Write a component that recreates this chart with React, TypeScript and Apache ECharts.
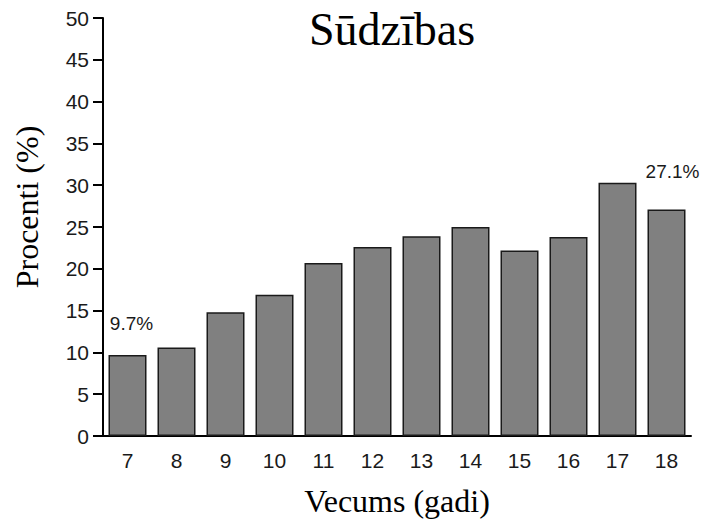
import React, { useEffect, useRef } from "react";
import * as echarts from "echarts";

const categories = ["7", "8", "9", "10", "11", "12", "13", "14", "15", "16", "17", "18"];
const values = [9.7, 10.6, 14.8, 16.9, 20.7, 22.6, 23.9, 25.0, 22.2, 23.8, 30.3, 27.1];
const labeledIndices = [0, 11];

export default function App() {
  const ref = useRef<HTMLDivElement>(null);
  useEffect(() => {
    const chart = echarts.init(ref.current!, null, { renderer: "svg" });
    const data = values.map((v, i) =>
      labeledIndices.includes(i)
        ? {
            value: v,
            label: {
              show: true,
              position: "top",
              distance: i === 0 ? 22 : 28,
              offset: i === 0 ? [4, 0] : [6, 0],
              formatter: (p: any) => `${p.value}%`,
              fontFamily: "Liberation Sans, Arial, sans-serif",
              fontSize: 19,
              color: "#1a1a1a",
            },
          }
        : v
    );
    chart.setOption({
      animation: false,
      backgroundColor: "#ffffff",
      title: {
        text: "Sūdzības",
        left: 387,
        top: 1,
        textAlign: "center",
        textStyle: {
          fontFamily: "Liberation Serif, Times New Roman, serif",
          fontSize: 46,
          fontWeight: "normal",
          color: "#000",
        },
      },
      grid: { left: 103, right: 18, top: 18, bottom: 90 },
      xAxis: {
        type: "category",
        data: categories,
        name: "Vecums (gadi)",
        nameLocation: "middle",
        nameGap: 49,
        nameTextStyle: {
          fontFamily: "Liberation Serif, Times New Roman, serif",
          fontSize: 32,
          color: "#000",
        },
        axisLine: { lineStyle: { color: "#000", width: 2 } },
        axisTick: { alignWithLabel: true, length: 9, lineStyle: { color: "#000", width: 2 } },
        axisLabel: {
          margin: 14,
          fontFamily: "Liberation Sans, Arial, sans-serif",
          fontSize: 21,
          color: "#1a1a1a",
        },
      },
      yAxis: {
        type: "value",
        min: 0,
        max: 50,
        interval: 5,
        name: "Procenti (%)",
        nameLocation: "middle",
        nameGap: 60,
        nameTextStyle: {
          fontFamily: "Liberation Serif, Times New Roman, serif",
          fontSize: 32,
          color: "#000",
          padding: [0, 0, 0, 40],
        },
        axisLine: { show: true, lineStyle: { color: "#000", width: 2 } },
        axisTick: { show: true, length: 10, lineStyle: { color: "#000", width: 2 } },
        axisLabel: {
          margin: 14,
          fontFamily: "Liberation Sans, Arial, sans-serif",
          fontSize: 21,
          color: "#1a1a1a",
        },
        splitLine: { show: false },
      },
      series: [
        {
          type: "bar",
          data,
          barWidth: 38,
          itemStyle: { color: "#808080", borderColor: "#1a1a1a", borderWidth: 1.5 },
        },
      ],
    });
    return () => chart.dispose();
  }, []);
  return <div ref={ref} style={{ width: 709, height: 526, position: "absolute", left: 0, top: 0 }} />;
}
